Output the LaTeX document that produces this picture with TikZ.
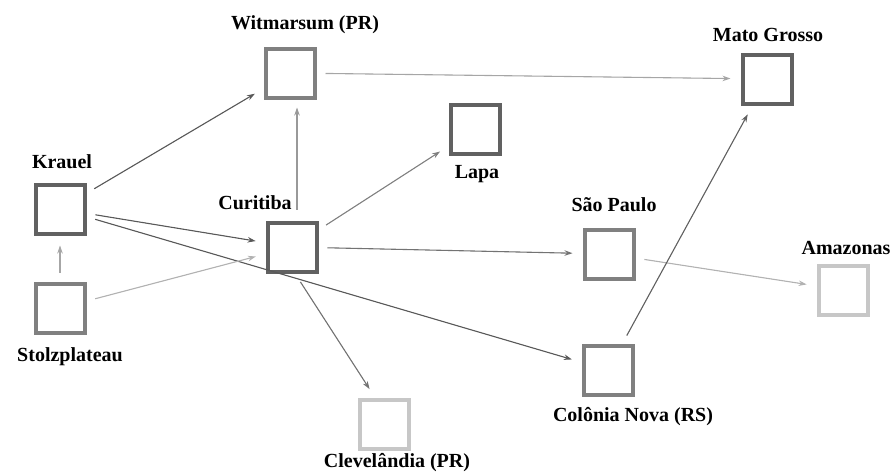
\documentclass[tikz,border=0pt]{standalone}
\usepackage{fontspec}
\setmainfont{Liberation Serif}
\usetikzlibrary{arrows.meta,calc}
\tikzset{
  place/.style={draw, line width=4pt, minimum size=49pt, inner sep=0pt, fill=white},
  darkbox/.style={place, draw=black!62},
  midbox/.style={place, draw=black!50},
  lightbox/.style={place, draw=black!22},
  lbl/.style={font=\fontsize{20}{22}\selectfont\bfseries, inner sep=0pt},
  link/.style={line width=1.1pt, -{Stealth[length=8pt,width=5.5pt]}, shorten <=9pt, shorten >=10pt},
}
\begin{document}
\begin{tikzpicture}[x=1pt,y=-1pt]
\useasboundingbox (0,0) rectangle (890,475);

% places
\node[midbox]   (wit) at (290,73)  {};
\node[darkbox]  (mat) at (767,79)  {};
\node[darkbox]  (lap) at (475,129) {};
\node[darkbox]  (kra) at (60,209)  {};
\node[midbox]   (sto) at (60,308)  {};
\node[darkbox]  (cur) at (292,247) {};
\node[midbox]   (sao) at (609,254) {};
\node[lightbox] (ama) at (843,290) {};
\node[midbox]   (col) at (608,370) {};
\node[lightbox] (cle) at (384,424) {};

% labels
\node[lbl] (witL) at (305,25)  {Witmarsum (PR)};
\node[lbl] (matL) at (768,35)  {Mato Grosso};
\node[lbl] (lapL) at (477,174) {Lapa};
\node[lbl] (kraL) at (62,162)  {Krauel};
\node[lbl] (stoL) at (70,357)  {Stolzplateau};
\node[lbl] (curL) at (255,203) {Curitiba};
\node[lbl] (saoL) at (614,205) {São Paulo};
\node[lbl] (amaL) at (846,248) {Amazonas};
\node[lbl] (colL) at (633,417) {Colônia Nova (RS)};
\node[lbl] (cleL) at (397,463) {Clevelândia (PR)};

% connections
\draw[link, draw=black!65, fill=black!65] (kra) -- (wit);
\draw[link, draw=black!65, fill=black!65] (kra) -- (cur);
\draw[link, draw=black!65, fill=black!65] (kra) -- (col);
\draw[link, draw=black!35, fill=black!35] (sto) -- (kra);
\draw[link, draw=black!30, fill=black!30] (sto) -- (cur);
\draw[link, draw=black!40, fill=black!40, shorten <=11pt, shorten >=8pt]
  ([xshift=5pt]cur.north) -- ([xshift=7pt]wit.south);
\draw[link, draw=black!50, fill=black!50] (cur) -- (lap);
\draw[link, draw=black!55, fill=black!55] (cur) -- (sao);
\draw[link, draw=black!55, fill=black!55, shorten <=10pt, shorten >=10pt]
  ([xshift=3pt]cur.south) -- ([xshift=-9pt]cle.north);
\draw[link, draw=black!35, fill=black!35] (wit) -- (mat);
\draw[link, draw=black!30, fill=black!30] (sao) -- (ama);
\draw[link, draw=black!62, fill=black!62] (col) -- (mat);
\end{tikzpicture}
\end{document}
